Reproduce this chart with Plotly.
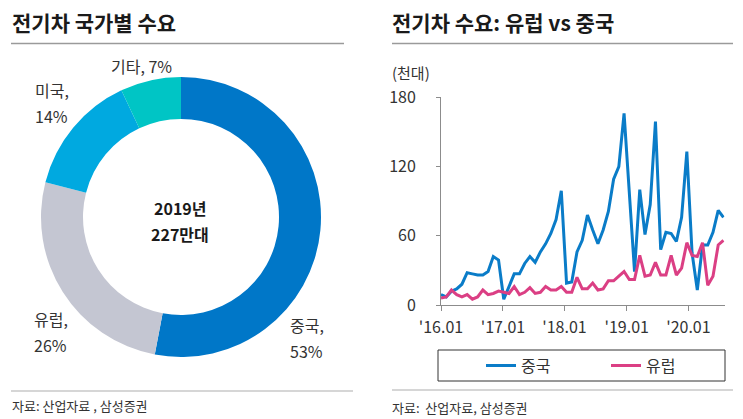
import plotly.graph_objects as go

W, H = 743, 419

def px(x):
    return x / W

def py(y):
    return 1 - y / H

FONT = "Noto Sans CJK KR"
TXT = "#333333"

# ---- donut data ----
pie_labels = ["중국", "유럽", "미국", "기타"]
pie_values = [53, 26, 14, 7]
pie_colors = ["#0077C8", "#C4C6D2", "#00A9E0", "#00C5C5"]
center_lines = ["2019년", "227만대"]

# ---- line data (thousand units), 2016.01 .. 2020.07 ----
china = [9, 7, 12, 14, 18, 28, 27, 26, 26, 29, 42, 39,
         5, 16, 27, 27, 36, 42, 37, 46, 53, 62, 74, 99,
         19, 20, 46, 56, 78, 65, 53, 65, 81, 109, 120, 166,
         95, 29, 100, 61, 87, 159, 48, 63, 62, 55, 76, 133,
         45, 13, 52, 52, 63, 82, 76]
europe = [6, 7, 13, 9, 7, 9, 5, 7, 13, 9, 10, 12,
          11, 10, 16, 9, 11, 15, 10, 11, 16, 13, 13, 16,
          11, 11, 24, 14, 14, 19, 13, 14, 21, 21, 25, 29,
          22, 22, 43, 25, 26, 37, 26, 26, 43, 26, 32, 54,
          43, 42, 54, 17, 25, 52, 56]
months = list(range(len(china)))
tick_text = ["'16.01", "'17.01", "'18.01", "'19.01", "'20.01"]
tick_pos = [0, 11.85, 23.6, 35.5, 47.3]
y_ticks = [0, 60, 120, 180]

fig = go.Figure()

fig.add_trace(go.Pie(
    labels=pie_labels, values=pie_values, hole=0.70, sort=False,
    direction="clockwise", rotation=0,
    marker=dict(colors=pie_colors, line=dict(width=0)),
    textinfo="none", hoverinfo="label+percent", showlegend=False,
    domain=dict(x=[px(41), px(321)], y=[py(357), py(77)]),
))

fig.add_trace(go.Scatter(
    x=months, y=china, mode="lines", name="중국",
    line=dict(color="#0A7CC8", width=3),
    xaxis="x", yaxis="y",
))
fig.add_trace(go.Scatter(
    x=months, y=europe, mode="lines", name="유럽",
    line=dict(color="#DB3F84", width=3),
    xaxis="x", yaxis="y",
))

fig.update_layout(
    width=W, height=H,
    margin=dict(l=0, r=0, t=0, b=0, pad=0, autoexpand=False),
    paper_bgcolor="white", plot_bgcolor="white",
    font=dict(family=FONT, color=TXT),
    xaxis=dict(domain=[px(441), px(724.5)], range=[0, 54.2],
               tickvals=tick_pos, ticktext=tick_text, automargin=False,
               showgrid=False, zeroline=False, showline=True,
               linecolor="#8c8c8c", linewidth=1,
               ticks="outside", ticklen=5, tickcolor="#8c8c8c",
               ticklabelstandoff=3,
               tickfont=dict(size=16, color=TXT)),
    yaxis=dict(domain=[py(305), py(97.3)], range=[0, 180],
               tickvals=y_ticks, showgrid=False, zeroline=False, automargin=False,
               showline=True, linecolor="#8c8c8c", linewidth=1,
               ticks="outside", ticklen=4, tickcolor="#8c8c8c",
               ticklabelstandoff=17,
               tickfont=dict(size=16, color=TXT)),
    legend=dict(orientation="h", x=px(481), y=py(365.5),
                xanchor="left", yanchor="middle",
                font=dict(size=16, color=TXT),
                itemwidth=30, entrywidth=80, bgcolor="rgba(0,0,0,0)"),
    showlegend=True,
)

shapes = [
    dict(type="line", xref="paper", yref="paper", x0=px(11), x1=px(344), y0=py(43.5), y1=py(43.5),
         line=dict(color="#9a9a9a", width=1.5)),
    dict(type="line", xref="paper", yref="paper", x0=px(392), x1=px(733), y0=py(43.5), y1=py(43.5),
         line=dict(color="#9a9a9a", width=1.5)),
    dict(type="line", xref="paper", yref="paper", x0=px(11), x1=px(353), y0=py(391), y1=py(391),
         line=dict(color="#c8c8c8", width=1.5)),
    dict(type="line", xref="paper", yref="paper", x0=px(392), x1=px(733), y0=py(390), y1=py(390),
         line=dict(color="#c8c8c8", width=1.5)),
    dict(type="rect", xref="paper", yref="paper", x0=px(438), x1=px(725), y0=py(381), y1=py(350),
         line=dict(color="#333333", width=1)),
]

ann = []
def add(text, x, y, size, xanchor="left", yanchor="middle", align="left", color=TXT):
    ann.append(dict(text=text, x=px(x), y=py(y), xref="paper", yref="paper",
                    xanchor=xanchor, yanchor=yanchor, align=align, showarrow=False,
                    borderpad=0,
                    font=dict(size=size, color=color, family=FONT)))

add("<b>전기차 국가별 수요</b>", 11, 22, 21, color="#1a1a1a")
add("<b>전기차 수요: 유럽 vs 중국</b>", 391, 22, 21, color="#1a1a1a")
add("(천대)", 391, 72, 15)
add("자료: 산업자료 , 삼성증권", 11, 405, 13)
add("자료:  산업자료, 삼성증권", 391, 407, 13)
add("<b>" + center_lines[0] + "</b>", 180, 221, 16, xanchor="center", yanchor="bottom", color="#1a1a1a")
add("<b>" + center_lines[1] + "</b>", 180, 221, 16, xanchor="center", yanchor="top", color="#1a1a1a")
add("기타, 7%", 110, 66, 16)
add("미국,", 34, 102.5, 16, yanchor="bottom")
add("14%", 34, 102.5, 16, yanchor="top")
add("유럽,", 33, 331.5, 16, yanchor="bottom")
add("26%", 33, 331.5, 16, yanchor="top")
add("중국,", 289, 337.5, 16, yanchor="bottom")
add("53%", 289, 337.5, 16, yanchor="top")

fig.update_layout(shapes=shapes, annotations=ann)
fig.write_html("out.html")
